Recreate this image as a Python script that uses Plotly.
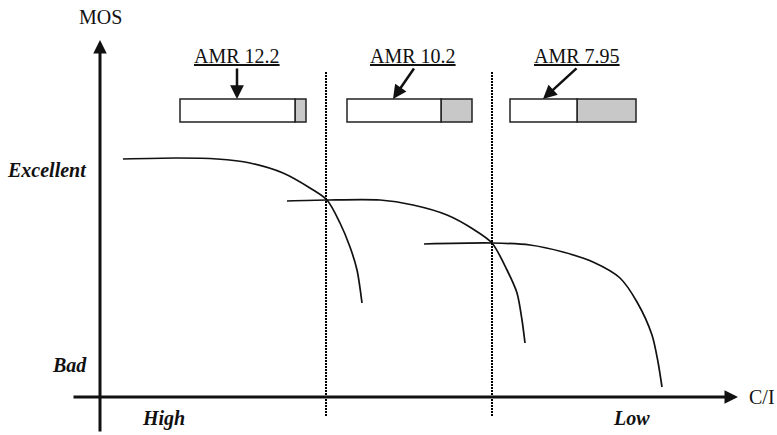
import plotly.graph_objects as go

# ---------------- data (chart units: x = C/I position, y = MOS position, y grows downward) -------------
codecs = ["AMR 12.2", "AMR 10.2", "AMR 7.95"]

curve1_x = [123, 177, 217, 250, 283, 310, 327, 340, 350, 357, 362]
curve1_y = [159, 158, 159, 163, 173, 188, 200, 223, 247, 270, 303]

curve2_x = [287, 327, 380, 413, 447, 473, 492, 507, 517, 522, 525]
curve2_y = [201, 200, 200, 205, 215, 229, 243, 270, 293, 320, 343]

curve3_x = [424, 492, 530, 563, 593, 620, 637, 652, 658, 662]
curve3_y = [244, 243, 245, 252, 262, 278, 302, 335, 362, 387]

curves_x = [curve1_x, curve2_x, curve3_x]
curves_y = [curve1_y, curve2_y, curve3_y]

# codec switching thresholds (C/I positions)
thresholds = [326, 492]

# bit-allocation boxes: left edge, speech part end, box end
box_left = [180, 347, 510]
box_split = [295, 441, 577]
box_right = [306, 472, 636]

# label positions and arrow targets
label_x = [237, 413, 577]
arrow_tail_x = [237, 415, 578]
arrow_head_x = [237, 393, 543]

y_labels = ["Excellent", "Bad"]
x_labels = ["High", "Low"]

# ---------------- layout constants ----------------
W, H = 777, 435
YAX_X = 100
XAX_Y = 397
BOX_TOP, BOX_BOT = 99, 122
LABEL_Y = 56
ARROW_TAIL_Y, ARROW_HEAD_Y = 67, 99
FONT = "Liberation Serif, Times New Roman, serif"
FS = 20

fig = go.Figure()

for cx, cy in zip(curves_x, curves_y):
    fig.add_trace(go.Scatter(x=cx, y=cy, mode="lines",
                             line=dict(color="#111111", width=1.7, shape="spline", smoothing=0.8),
                             hoverinfo="skip", showlegend=False))

shapes = []
for t in thresholds:
    shapes.append(dict(type="line", xref="x", yref="y", x0=t, x1=t, y0=72, y1=417,
                       line=dict(color="#000000", width=2, dash="2px,1px")))

for l, s, r in zip(box_left, box_split, box_right):
    shapes.append(dict(type="rect", xref="x", yref="y", x0=s, x1=r, y0=BOX_TOP, y1=BOX_BOT,
                       fillcolor="#c8c8c8", line=dict(color="#222222", width=1.5)))
    shapes.append(dict(type="rect", xref="x", yref="y", x0=l, x1=s, y0=BOX_TOP, y1=BOX_BOT,
                       fillcolor="white", line=dict(color="#222222", width=1.5)))

annotations = []
# axes with arrowheads
annotations.append(dict(x=YAX_X, y=40, ax=YAX_X, ay=433, xref="x", yref="y", axref="x", ayref="y",
                        text="", showarrow=True, arrowhead=2, arrowwidth=3, arrowsize=0.9,
                        arrowcolor="#111111", standoff=0, startstandoff=0))
annotations.append(dict(x=738, y=XAX_Y, ax=72, ay=XAX_Y, xref="x", yref="y", axref="x", ayref="y",
                        text="", showarrow=True, arrowhead=2, arrowwidth=3, arrowsize=0.9,
                        arrowcolor="#111111", standoff=0, startstandoff=0))

# codec arrows
for tx, hx in zip(arrow_tail_x, arrow_head_x):
    annotations.append(dict(x=hx, y=ARROW_HEAD_Y, ax=tx, ay=ARROW_TAIL_Y, xref="x", yref="y",
                            axref="x", ayref="y", text="", showarrow=True, arrowhead=2,
                            arrowwidth=2.5, arrowsize=1.1, arrowcolor="#111111", standoff=0))

# codec labels (underlined)
for name, lx in zip(codecs, label_x):
    annotations.append(dict(x=lx, y=LABEL_Y, xref="x", yref="y", text=name, showarrow=False,
                            font=dict(family=FONT, size=FS, color="#111111", lineposition="under"),
                            xanchor="center", yanchor="middle"))

# axis titles
annotations.append(dict(x=YAX_X, y=17, xref="x", yref="y", text="MOS", showarrow=False,
                        font=dict(family=FONT, size=FS, color="#111111"), xanchor="center", yanchor="middle"))
annotations.append(dict(x=747, y=XAX_Y, xref="x", yref="y", text="C/I", showarrow=False,
                        font=dict(family=FONT, size=FS, color="#111111"), xanchor="left", yanchor="middle"))

# y-axis category labels
for lab, yy in zip(y_labels, [170, 365]):
    annotations.append(dict(x=89, y=yy, xref="x", yref="y", text="<b><i>" + lab + "</i></b>",
                            showarrow=False, font=dict(family=FONT, size=FS, color="#111111"),
                            xanchor="right", yanchor="middle"))
# x-axis category labels
for lab, xx in zip(x_labels, [163, 631]):
    annotations.append(dict(x=xx, y=418, xref="x", yref="y", text="<b><i>" + lab + "</i></b>",
                            showarrow=False, font=dict(family=FONT, size=FS, color="#111111"),
                            xanchor="center", yanchor="middle"))

fig.update_layout(
    width=W, height=H,
    margin=dict(l=0, r=0, t=0, b=0),
    paper_bgcolor="white", plot_bgcolor="white",
    xaxis=dict(range=[0, W], visible=False, fixedrange=True),
    yaxis=dict(range=[H, 0], visible=False, fixedrange=True),
    shapes=shapes, annotations=annotations,
    showlegend=False,
)

fig.write_html("out.html", config={"displayModeBar": False},
               post_script="document.body.style.margin='0';document.body.style.overflow='hidden';")
